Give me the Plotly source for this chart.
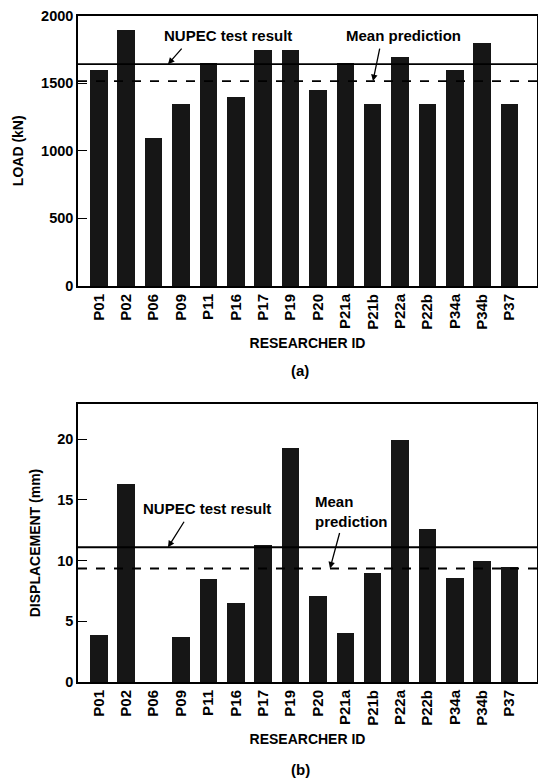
import plotly.graph_objects as go

researchers = ["P01", "P02", "P06", "P09", "P11", "P16", "P17", "P19", "P20",
               "P21a", "P21b", "P22a", "P22b", "P34a", "P34b", "P37"]
load_kn = [1600, 1900, 1100, 1350, 1650, 1400, 1750, 1750, 1450,
           1650, 1350, 1700, 1350, 1600, 1800, 1350]
displacement_mm = [3.9, 16.3, None, 3.7, 8.5, 6.5, 11.3, 19.25, 7.1,
                   4.0, 9.0, 19.9, 12.6, 8.6, 10.0, 9.45]
nupec_load = 1640
mean_load = 1515
nupec_disp = 11.1
mean_disp = 9.35

W, H = 538, 779
FONT = "Liberation Sans, Arial, sans-serif"
BAR = "#161616"

def px(x):
    return x / W

def py(y):
    return 1 - y / H

fig = go.Figure()
fig.add_trace(go.Bar(x=list(range(len(researchers))), y=load_kn, marker_color=BAR,
                     marker_line_width=0, width=0.64, xaxis="x", yaxis="y",
                     showlegend=False))
fig.add_trace(go.Bar(x=list(range(len(researchers))), y=displacement_mm, marker_color=BAR,
                     marker_line_width=0, width=0.64, xaxis="x2", yaxis="y2",
                     showlegend=False))

tickfont = dict(family=FONT, size=15, color="black", weight="bold")
titlefont = dict(family=FONT, size=14, color="black", weight="bold")

xcommon = dict(tickmode="array", tickvals=list(range(len(researchers))), ticktext=researchers,
               tickangle=-90, tickfont=tickfont, range=[-0.76, 16.0], automargin=False,
               showline=True, linecolor="black", linewidth=2, mirror=True,
               ticks="", showgrid=False, zeroline=False,
               title=dict(text="RESEARCHER ID", font=titlefont, standoff=9))
ycommon = dict(showline=True, linecolor="black", linewidth=1.5, mirror=True, automargin=False,
               ticks="inside", ticklen=9, tickwidth=1.2, tickcolor="black",
               tickfont=dict(family=FONT, size=14.5, color="black", weight="bold"),
               showgrid=False, zeroline=False)

fig.update_layout(
    width=W, height=H, margin=dict(l=0, r=0, t=0, b=0, autoexpand=False),
    paper_bgcolor="white", plot_bgcolor="white", bargap=0,
    xaxis=dict(domain=[px(78), px(537)], anchor="y", **xcommon),
    yaxis=dict(domain=[py(286), py(15.5)], anchor="x", range=[0, 2000],
               tickvals=[0, 500, 1000, 1500, 2000],
               title=dict(text="LOAD (kN)", font=titlefont, standoff=14), **ycommon),
    xaxis2=dict(domain=[px(78), px(537)], anchor="y2", **xcommon),
    yaxis2=dict(domain=[py(682), py(404)], anchor="x2", range=[0, 22.9],
                tickvals=[0, 5, 10, 15, 20],
                title=dict(text="DISPLACEMENT (mm)", font=titlefont, standoff=13), **ycommon),
)

# reference lines
for yref, yv, dash in [("y", nupec_load, "solid"), ("y", mean_load, "dash"),
                       ("y2", nupec_disp, "solid"), ("y2", mean_disp, "dash")]:
    xr = "x domain" if yref == "y" else "x2 domain"
    fig.add_shape(type="line", xref=xr, yref=yref, x0=0, x1=1, y0=yv, y1=yv,
                  line=dict(color="black", width=1.8, dash=dash), layer="above")

afont = dict(family=FONT, size=15, color="black", weight="bold")
ann = []
# text labels
ann.append(dict(xref="paper", yref="paper", x=px(228), y=py(35), text="NUPEC test result",
                showarrow=False, font=afont, xanchor="center", yanchor="middle"))
ann.append(dict(xref="paper", yref="paper", x=px(403), y=py(35), text="Mean prediction",
                showarrow=False, font=afont, xanchor="center", yanchor="middle"))
ann.append(dict(xref="paper", yref="paper", x=px(207), y=py(508), text="NUPEC test result",
                showarrow=False, font=afont, xanchor="center", yanchor="middle"))
ann.append(dict(xref="paper", yref="paper", x=px(313), y=py(512), text="Mean<br>prediction",
                showarrow=False, font=afont, xanchor="left", yanchor="middle", align="left"))
# arrows
arrow = dict(showarrow=True, arrowhead=2, arrowsize=1, arrowwidth=1.3, arrowcolor="black",
             text="", axref="pixel", ayref="pixel")
ann.append(dict(xref="paper", yref="y", x=px(168), y=nupec_load, ax=15, ay=-17, **arrow))
ann.append(dict(xref="paper", yref="y", x=px(373), y=mean_load, ax=7, ay=-34, **arrow))
ann.append(dict(xref="paper", yref="y2", x=px(168), y=nupec_disp, ax=17, ay=-27, **arrow))
ann.append(dict(xref="paper", yref="y2", x=px(330), y=mean_disp, ax=10, ay=-37, **arrow))
# captions
ann.append(dict(xref="paper", yref="paper", x=px(300), y=py(370), text="(a)",
                showarrow=False, font=afont, xanchor="center", yanchor="middle"))
ann.append(dict(xref="paper", yref="paper", x=px(300), y=py(769), text="(b)",
                showarrow=False, font=afont, xanchor="center", yanchor="middle"))
fig.update_layout(annotations=ann)

fig.write_html("out.html", config={"displayModeBar": False},
               post_script="document.body.style.margin='0';document.body.style.overflow='hidden';")
